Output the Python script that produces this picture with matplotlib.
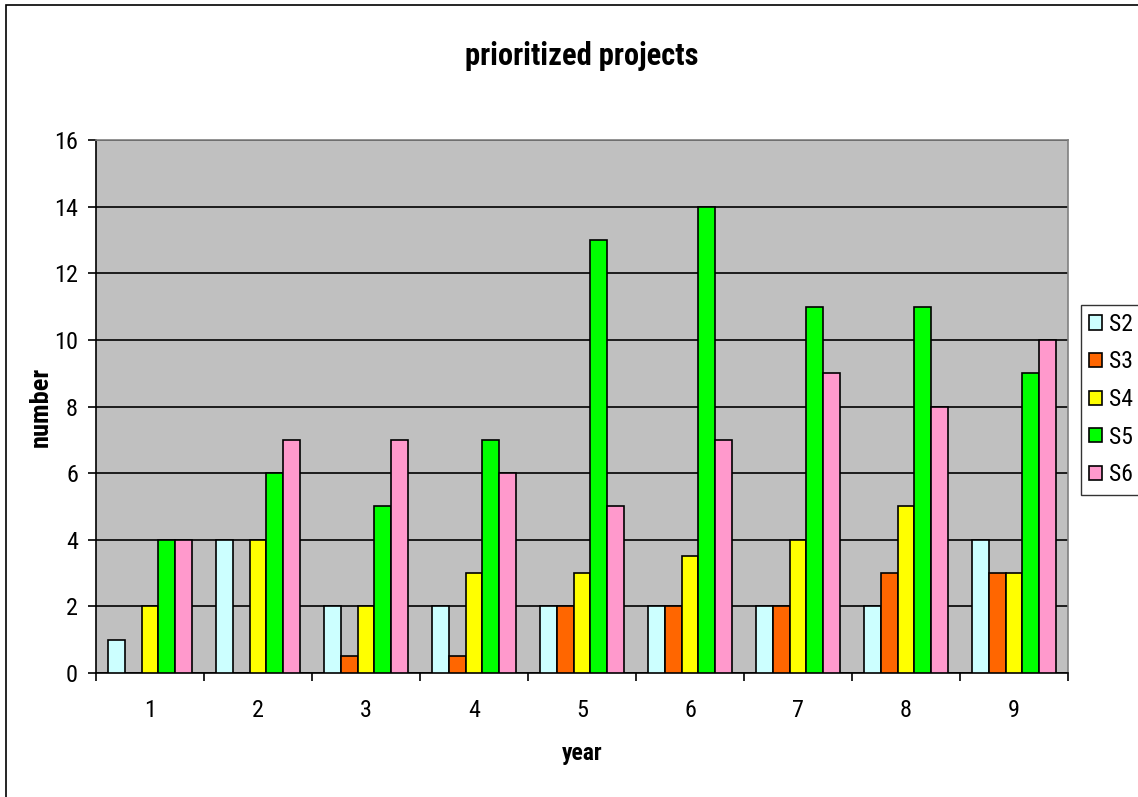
import numpy as np
import matplotlib.pyplot as plt
from matplotlib.patches import Rectangle
from matplotlib.ticker import FixedLocator

plt.rcParams['font.family'] = ['Roboto Condensed', 'DejaVu Sans']
plt.rcParams['font.stretch'] = 'condensed'

# Données
years = [1, 2, 3, 4, 5, 6, 7, 8, 9]
series = ["S2", "S3", "S4", "S5", "S6"]
s2 = [1, 4, 2, 2, 2, 2, 2, 2, 4]
s3 = [0, 0, 0.5, 0.5, 2, 2, 2, 3, 3]
s4 = [2, 4, 2, 3, 3, 3.5, 4, 5, 3]
s5 = [4, 6, 5, 7, 13, 14, 11, 11, 9]
s6 = [4, 7, 7, 6, 5, 7, 9, 8, 10]
couleurs = ["#CCFFFF", "#FF6600", "#FFFF00", "#00FF00", "#FF99CC"]

fig = plt.figure(figsize=(11.38, 7.97), dpi=100)
ax = fig.add_axes([96 / 1138, 124 / 797, 972 / 1138, 533 / 797])
ax.set_facecolor("#C0C0C0")

x = np.arange(len(years))
largeur = 0.157
for i, (nom, vals) in enumerate(zip(series, [s2, s3, s4, s5, s6])):
    pos = x + (i - 2) * largeur
    vals = np.array(vals, dtype=float)
    mask = vals > 0
    ax.bar(pos[mask], vals[mask], width=largeur, color=couleurs[i],
           edgecolor="black", linewidth=1.2, label=nom, zorder=3)

ax.set_xlim(-0.5, len(years) - 0.5)
ax.set_ylim(0, 16)
ax.set_yticks(np.arange(0, 17, 2))
ax.yaxis.grid(True, color="black", linewidth=1.2, zorder=1)
ax.set_axisbelow(True)

# Graduations de l'axe x entre les catégories
ax.set_xticks(x)
ax.set_xticklabels([str(a) for a in years])
ax.xaxis.set_minor_locator(FixedLocator(np.arange(-0.5, len(years), 1)))
ax.tick_params(axis="x", which="major", length=0, pad=19, labelsize=17.5)
ax.tick_params(axis="x", which="minor", length=6, width=1.2, color="black")
ax.tick_params(axis="y", length=6, width=1.2, labelsize=17.5, pad=7)

for s in ["left", "bottom"]:
    ax.spines[s].set_color("black")
    ax.spines[s].set_linewidth(1.2)
for s in ["top", "right"]:
    ax.spines[s].set_color("#808080")
    ax.spines[s].set_linewidth(1.2)

ax.set_title("prioritized projects", fontsize=22, fontweight="bold", pad=54)
ax.set_xlabel("year", fontsize=17, fontweight="bold", labelpad=14)
ax.set_ylabel("number", fontsize=19, fontweight="bold", labelpad=1)

leg = ax.legend(loc="center left", bbox_to_anchor=(1.013, 0.513), fontsize=17,
                frameon=True, fancybox=False, edgecolor="black",
                handlelength=0.55, handleheight=0.55, handletextpad=0.3,
                labelspacing=0.62, borderpad=0.35, borderaxespad=0)
leg.get_frame().set_linewidth(1.0)

# Cadre autour de la figure
fig.patches.append(Rectangle((6 / 1138, -0.05), 1.1, 1.05 - 5 / 797,
                             transform=fig.transFigure, fill=False,
                             edgecolor="black", linewidth=1.2))

fig.savefig("out.png", dpi=100)
